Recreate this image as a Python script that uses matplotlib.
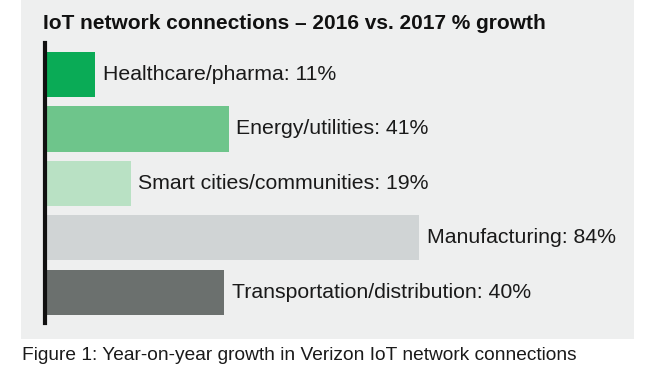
import matplotlib
matplotlib.use('Agg')
import matplotlib.pyplot as plt
from matplotlib.patches import Rectangle

# данные с картинки
categories = ['Healthcare/pharma', 'Energy/utilities', 'Smart cities/communities',
              'Manufacturing', 'Transportation/distribution']
growth = [11, 41, 19, 84, 40]
colors = ['#0aab56', '#6ec58b', '#b9e1c4', '#d0d4d5', '#6b706e']

title = 'IoT network connections \u2013 2016 vs. 2017 % growth'
caption = 'Figure 1: Year-on-year growth in Verizon IoT network connections'

plt.rcParams['font.family'] = ['Liberation Sans', 'DejaVu Sans']

W, H = 646, 375
fig = plt.figure(figsize=(W / 100, H / 100), dpi=100)
fig.patch.set_facecolor('white')

# серый фон-подложка
fig.patches.append(Rectangle((21 / W, 1 - 339 / H), (634 - 21) / W, 339 / H,
                             transform=fig.transFigure, facecolor='#eeefef',
                             edgecolor='none', zorder=-10))

px_per_unit = 4.44
left_px, right_px = 44.5, 600
top_px, bottom_px = 43, 323
ax = fig.add_axes([left_px / W, 1 - bottom_px / H, (right_px - left_px) / W,
                   (bottom_px - top_px) / H])
ax.set_facecolor('none')
x0 = -(46.5 - left_px) / px_per_unit
ax.set_xlim(x0, x0 + (right_px - left_px) / px_per_unit)
ax.set_ylim(4.56, -0.578)

ypos = list(range(len(categories)))
ax.barh(ypos, growth, height=0.826, color=colors, left=0)

for y, c, v in zip(ypos, categories, growth):
    ax.annotate(f'{c}: {v}%', xy=(v, y), xytext=(5.5, 0), textcoords='offset points',
                va='center', ha='left', fontsize=15.3, color='#1a1a1a')

for s in ['top', 'right', 'bottom']:
    ax.spines[s].set_visible(False)
ax.spines['left'].set_linewidth(3)
ax.spines['left'].set_color('#111111')
ax.set_xticks([])
ax.set_yticks([])

fig.text(43 / W, 1 - 23.5 / H, title, fontsize=15, fontweight='bold',
         va='center', ha='left', color='#111111')
fig.text(22 / W, 1 - 355 / H, caption, fontsize=13.8, va='center', ha='left',
         color='#1a1a1a')

fig.savefig('out.png', dpi=100)
